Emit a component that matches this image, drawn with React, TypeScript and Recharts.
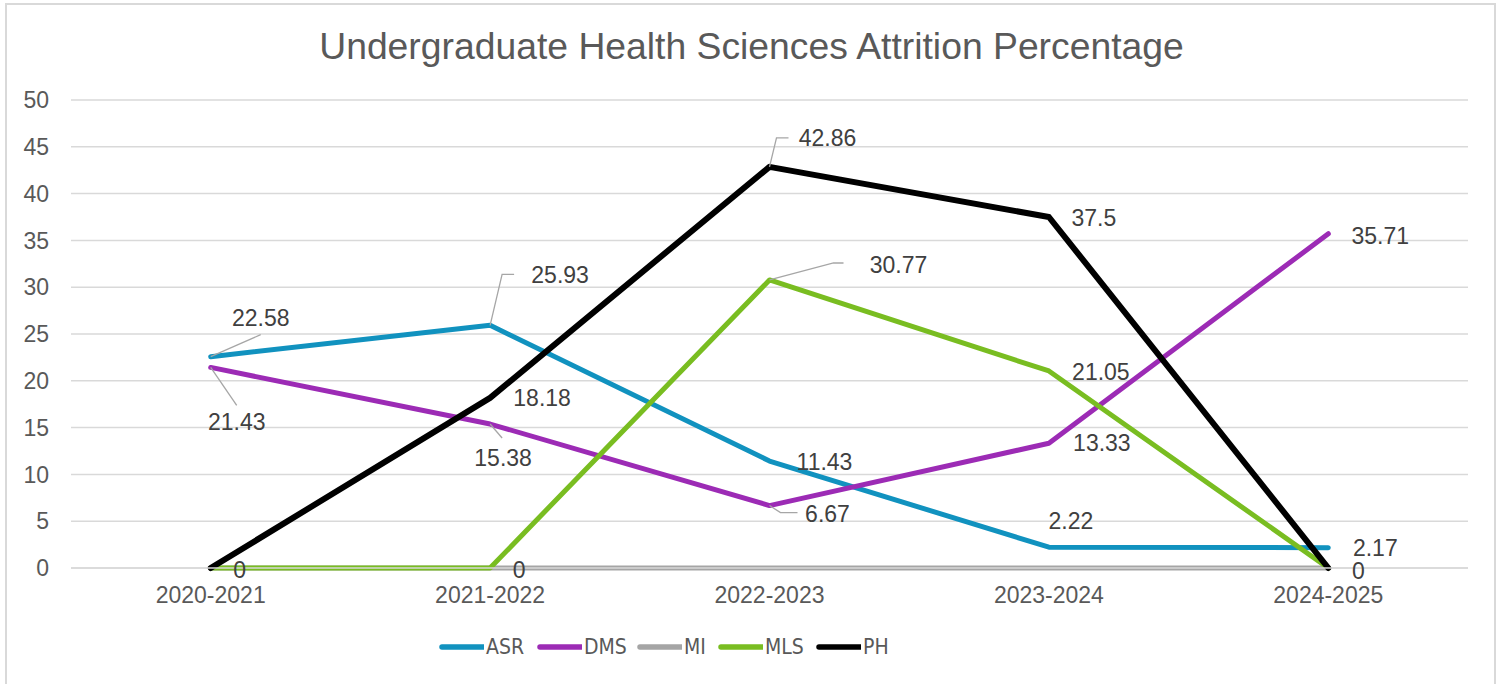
import React from 'react';
import { LineChart, Line, XAxis, YAxis, CartesianGrid, Legend, LabelList } from 'recharts';

const categories = ['2020-2021', '2021-2022', '2022-2023', '2023-2024', '2024-2025'];
const asr = [22.58, 25.93, 11.43, 2.22, 2.17];
const dms = [21.43, 15.38, 6.67, 13.33, 35.71];
const mi = [0, 0, 0, 0, 0];
const mls = [0, 0, 30.77, 21.05, 0];
const ph = [0, 18.18, 42.86, 37.5, 0];
const yTicks = [0, 5, 10, 15, 20, 25, 30, 35, 40, 45, 50];

const data = categories.map((c, i) => ({
  name: c,
  ASR: asr[i],
  DMS: dms[i],
  MI: mi[i],
  MLS: mls[i],
  PH: ph[i],
}));

const FONT = '"Liberation Sans", Arial, sans-serif';
const LABEL_COLOR = '#404040';
const LEADER = '#a6a6a6';

type Spec = { dx: number; dy: number; leader?: [number, number][] } | null;

const labelSpecs: Record<string, Spec[]> = {
  ASR: [
    { dx: 50, dy: -39, leader: [[0, 0], [50, -22]] },
    { dx: 70, dy: -50, leader: [[0, 0], [12, -51], [24, -51]] },
    { dx: 55, dy: 1 },
    { dx: 22, dy: -26 },
    { dx: 47, dy: 0 },
  ],
  DMS: [
    { dx: 26, dy: 55, leader: [[0, 0], [26, 38]] },
    { dx: 13, dy: 34, leader: [[0, 0], [12, 14]] },
    { dx: 58, dy: 8, leader: [[0, 0], [11, 7], [28, 7]] },
    { dx: 53, dy: 0 },
    { dx: 52, dy: 2 },
  ],
  MI: [
    { dx: 29, dy: 2 },
    { dx: 29, dy: 2 },
    null,
    null,
    { dx: 30, dy: 3 },
  ],
  MLS: [
    null,
    null,
    { dx: 129, dy: -15, leader: [[0, 0], [64, -17], [74, -17]] },
    { dx: 52, dy: 1 },
    null,
  ],
  PH: [
    null,
    { dx: 52, dy: 0 },
    { dx: 58, dy: -29, leader: [[0, 0], [7, -29], [19, -29]] },
    { dx: 45, dy: 1 },
    null,
  ],
};

const makeLabel = (key: string) => (props: any) => {
  const { x, y, value, index } = props;
  const spec = labelSpecs[key][index];
  if (!spec || x == null || y == null) return null;
  return (
    <g key={`${key}-${index}`}>
      {spec.leader && (
        <polyline
          points={spec.leader.map(([a, b]) => `${x + a},${y + b}`).join(' ')}
          fill="none"
          stroke={LEADER}
          strokeWidth={1.3}
        />
      )}
      <text
        x={x + spec.dx}
        y={y + spec.dy}
        textAnchor="middle"
        dominantBaseline="central"
        fontFamily={FONT}
        fontSize={23}
        fill={LABEL_COLOR}
      >
        {value}
      </text>
    </g>
  );
};

const series = [
  { key: 'ASR', color: '#1192bf', width: 5, legendW: 98 },
  { key: 'DMS', color: '#9c2bb5', width: 5, legendW: 100 },
  { key: 'MI', color: '#a5a5a5', width: 5, legendW: 81 },
  { key: 'MLS', color: '#79bd21', width: 5, legendW: 98 },
  { key: 'PH', color: '#000000', width: 6, legendW: 80 },
];

const LegendContent = () => (
  <div
    style={{
      display: 'flex',
      alignItems: 'center',
      height: 30,
      paddingLeft: 439,
      fontFamily: '"Liberation Sans Narrow", "Arial Narrow", "DejaVu Sans Condensed", sans-serif',
      fontSize: 21,
      color: '#595959',
    }}
  >
    {series.map((s) => (
      <div key={s.key} style={{ display: 'flex', alignItems: 'center', width: s.legendW, flex: 'none' }}>
        <svg width={45} height={10} style={{ marginRight: 2 }}>
          <line x1={3} y1={5} x2={44} y2={5} stroke={s.color} strokeWidth={5.5} strokeLinecap="round" />
        </svg>
        <span>{s.key}</span>
      </div>
    ))}
  </div>
);

export default function App() {
  return (
    <div style={{ position: 'absolute', left: 0, top: 0, width: 1503, height: 684, background: '#fff', overflow: 'hidden' }}>
      <div
        style={{
          position: 'absolute',
          left: 5,
          top: 3,
          width: 1491,
          height: 700,
          border: '2px solid #d9d9d9',
          boxSizing: 'border-box',
        }}
      />
      <div
        style={{
          position: 'absolute',
          left: 0,
          top: 23,
          width: 1503,
          textAlign: 'center',
          fontFamily: FONT,
          fontSize: 37.3,
          color: '#595959',
          lineHeight: '46px',
        }}
      >
        Undergraduate Health Sciences Attrition Percentage
      </div>
      <div style={{ position: 'absolute', left: 0, top: 0 }}>
        <LineChart width={1503} height={684} data={data} margin={{ top: 100, right: 35, left: 0, bottom: 46 }}>
          <CartesianGrid vertical={false} stroke="#d9d9d9" strokeWidth={1.5} />
          <XAxis
            dataKey="name"
            padding={{ left: 139.7, right: 139.7 }}
            tickLine={false}
            axisLine={{ stroke: '#d9d9d9', strokeWidth: 1.5 }}
            tickSize={19}
            tickMargin={0}
            height={40}
            interval={0}
            tick={{ fill: '#595959', fontSize: 23, fontFamily: FONT }}
          />
          <YAxis
            domain={[0, 50]}
            ticks={yTicks}
            width={71}
            tickLine={false}
            axisLine={false}
            tickSize={22}
            tickMargin={0}
            interval={0}
            tick={{ fill: '#595959', fontSize: 23, fontFamily: FONT }}
          />
          <Legend verticalAlign="bottom" content={<LegendContent />} wrapperStyle={{ left: 0, width: 1503, top: 632 }} />
          {series.map((s) => (
            <Line
              key={s.key}
              dataKey={s.key}
              type="linear"
              stroke={s.color}
              strokeWidth={s.width}
              strokeLinecap="round"
              strokeLinejoin="round"
              dot={false}
              activeDot={false}
              isAnimationActive={false}
            >
              <LabelList dataKey={s.key} content={makeLabel(s.key)} />
            </Line>
          ))}
        </LineChart>
      </div>
    </div>
  );
}
